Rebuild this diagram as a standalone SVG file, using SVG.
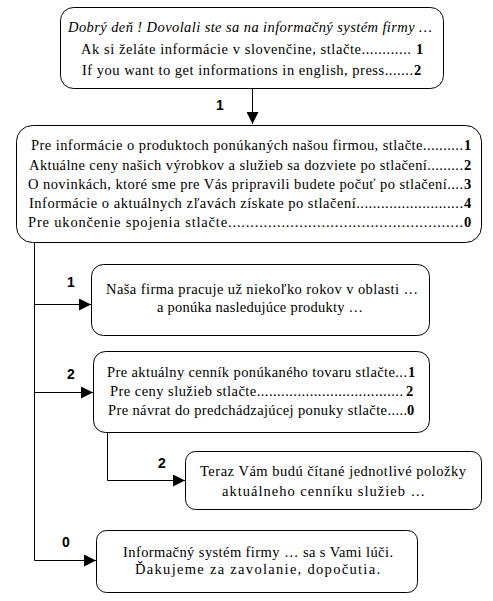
<svg xmlns="http://www.w3.org/2000/svg" width="493" height="601" viewBox="0 0 493 601">
<style>
.box{fill:#fff;stroke:#000;stroke-width:1}
.t{font-family:"Liberation Serif","Times New Roman",serif;font-size:14.5px;fill:#000}
.i{font-style:italic}
.d{font-family:"Liberation Serif","Times New Roman",serif;font-size:14.5px;font-weight:bold;fill:#000}
.lbl{font-family:"Liberation Sans",Arial,sans-serif;font-size:14px;font-weight:bold;fill:#000;text-anchor:middle}
.c{fill:none;stroke:#000;stroke-width:1}
</style>
<defs>
<marker id="ah" markerWidth="12" markerHeight="12" refX="12" refY="6" orient="auto" markerUnits="userSpaceOnUse">
<path d="M0,0 L12,6 L0,12 Z" fill="#000"/>
</marker>
</defs>
<g id="connectors">
<path class="c" d="M252.5,88 V124" marker-end="url(#ah)"/>
<path class="c" d="M34.5,243 V560.5 H96" marker-end="url(#ah)"/>
<path class="c" d="M34.5,304.5 H91" marker-end="url(#ah)"/>
<path class="c" d="M34.5,392.5 H93" marker-end="url(#ah)"/>
<path class="c" d="M107.5,433 V480.5 H185" marker-end="url(#ah)"/>
<text class="lbl" x="220" y="110">1</text>
<text class="lbl" x="71" y="287">1</text>
<text class="lbl" x="71" y="379">2</text>
<text class="lbl" x="162" y="468">2</text>
<text class="lbl" x="66" y="547">0</text>
</g>
<g id="n1">
<rect class="box" x="60.5" y="7.5" width="383" height="81" rx="13"/>
<text class="t i" x="68" y="32" textLength="364">Dobrý deň ! Dovolali ste sa na informačný systém firmy …</text>
<text class="t" x="81" y="54" textLength="330">Ak si želáte informácie v slovenčine, stlačte............</text>
<text class="d" x="416" y="54">1</text>
<text class="t" x="82" y="75" textLength="331">If you want to get  informations in english, press.......</text>
<text class="d" x="414" y="75">2</text>
</g>
<g id="n2">
<rect class="box" x="16.5" y="125.5" width="465" height="117" rx="16"/>
<text class="t" x="31" y="150" textLength="432">Pre informácie o produktoch ponúkaných našou firmou, stlačte..........</text>
<text class="d" x="464" y="150">1</text>
<text class="t" x="29" y="170" textLength="434">Aktuálne ceny našich výrobkov a služieb sa dozviete po stlačení.........</text>
<text class="d" x="464" y="170">2</text>
<text class="t" x="28" y="189" textLength="435">O novinkách, ktoré sme pre Vás pripravili budete počuť po stlačení....</text>
<text class="d" x="464" y="189">3</text>
<text class="t" x="29" y="208" textLength="434">Informácie o aktuálnych zľavách získate po stlačení..........................</text>
<text class="d" x="464" y="208">4</text>
<text class="t" x="28" y="227" textLength="435">Pre ukončenie spojenia stlačte.....................................................</text>
<text class="d" x="464" y="227">0</text>
</g>
<g id="n3">
<rect class="box" x="91.5" y="264.5" width="338" height="71" rx="12"/>
<text class="t" x="106" y="294" textLength="312">Naša firma pracuje už niekoľko rokov v oblasti …</text>
<text class="t" x="157" y="312" textLength="206">a ponúka nasledujúce produkty …</text>
</g>
<g id="n4">
<rect class="box" x="93.5" y="351.5" width="336" height="81" rx="12"/>
<text class="t" x="107" y="377" textLength="300">Pre aktuálny cenník ponúkaného tovaru stlačte...</text>
<text class="d" x="408" y="377">1</text>
<text class="t" x="110" y="396" textLength="293">Pre ceny služieb stlačte.................................... </text>
<text class="d" x="406" y="396">2</text>
<text class="t" x="108" y="415" textLength="299">Pre návrat do predchádzajúcej ponuky stlačte.....</text>
<text class="d" x="407" y="415">0</text>
</g>
<g id="n5">
<rect class="box" x="185.5" y="451.5" width="296" height="58" rx="10"/>
<text class="t" x="200" y="476" textLength="266">Teraz Vám budú čítané jednotlivé položky</text>
<text class="t" x="222" y="496" textLength="203">aktuálneho cenníku služieb …</text>
</g>
<g id="n6">
<rect class="box" x="96.5" y="530.5" width="321" height="62" rx="10"/>
<text class="t" x="123" y="557" textLength="270">Informačný systém firmy … sa s Vami lúči.</text>
<text class="t" x="135" y="574" textLength="245">Ďakujeme za zavolanie, dopočutia.</text>
</g>
</svg>
